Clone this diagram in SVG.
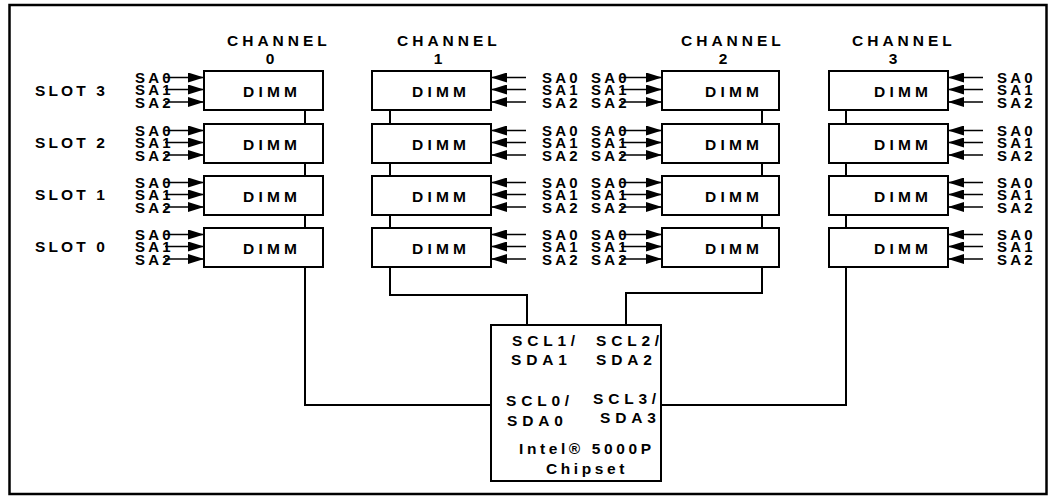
<svg xmlns="http://www.w3.org/2000/svg" width="1055" height="500" viewBox="0 0 1055 500">
<defs>
<style>
text{font-family:"Liberation Sans",Arial,sans-serif;font-weight:bold;font-size:15.5px;fill:#000}
.ch{letter-spacing:4px}
.dg{text-anchor:middle}
.dimm{letter-spacing:4.2px}
.slot{letter-spacing:3.1px}
.sa{letter-spacing:3.2px;font-size:15px}
.chip{letter-spacing:4.8px}
.intel{letter-spacing:3.6px}
.box{fill:#fff;stroke:#000;stroke-width:2}
.wire{fill:none;stroke:#000;stroke-width:2}
.arr{stroke:#000;stroke-width:1.6;marker-end:url(#ah)}
</style>
<marker id="ah" viewBox="0 0 16 10" markerWidth="16" markerHeight="10" refX="16" refY="5" orient="auto" markerUnits="userSpaceOnUse">
<path d="M0,0 L16,5 L0,10 z" fill="#000"/>
</marker>
</defs>
<rect x="9.5" y="5" width="1037" height="489" fill="#fff" stroke="#000" stroke-width="2.5"/>

<g id="headers">
<text class="ch" x="227" y="46">CHANNEL</text><text class="dg" x="270" y="64">0</text>
<text class="ch" x="397" y="46">CHANNEL</text><text class="dg" x="438" y="64">1</text>
<text class="ch" x="681" y="46">CHANNEL</text><text class="dg" x="723" y="64">2</text>
<text class="ch" x="852" y="46">CHANNEL</text><text class="dg" x="893" y="64">3</text>
</g>
<g id="slots">
<text class="slot" x="35" y="96">SLOT 3</text>
<text class="slot" x="35" y="148">SLOT 2</text>
<text class="slot" x="35" y="200">SLOT 1</text>
<text class="slot" x="35" y="252">SLOT 0</text>
</g>

<g id="connectors">
<path class="wire" d="M305,110 V124 M305,163 V176 M305,215 V228 M305,267 V405 H491"/>
<path class="wire" d="M390,110 V124 M390,163 V176 M390,215 V228 M390,267 V295 H527 V325"/>
<path class="wire" d="M762,110 V124 M762,163 V176 M762,215 V228 M762,267 V293 H626 V325"/>
<path class="wire" d="M846,110 V124 M846,163 V176 M846,215 V228 M846,267 V405 H661"/>
<g id="sa-arrows">
<line class="arr" x1="165" y1="77.5" x2="204" y2="77.5"/><line class="arr" x1="165" y1="89.5" x2="204" y2="89.5"/><line class="arr" x1="165" y1="102" x2="204" y2="102"/>
<line class="arr" x1="165" y1="130.5" x2="204" y2="130.5"/><line class="arr" x1="165" y1="142.5" x2="204" y2="142.5"/><line class="arr" x1="165" y1="155" x2="204" y2="155"/>
<line class="arr" x1="165" y1="182.5" x2="204" y2="182.5"/><line class="arr" x1="165" y1="194.5" x2="204" y2="194.5"/><line class="arr" x1="165" y1="207" x2="204" y2="207"/>
<line class="arr" x1="165" y1="234.5" x2="204" y2="234.5"/><line class="arr" x1="165" y1="246.5" x2="204" y2="246.5"/><line class="arr" x1="165" y1="259" x2="204" y2="259"/>

<line class="arr" x1="526" y1="77.5" x2="491" y2="77.5"/><line class="arr" x1="526" y1="89.5" x2="491" y2="89.5"/><line class="arr" x1="526" y1="102" x2="491" y2="102"/>
<line class="arr" x1="526" y1="130.5" x2="491" y2="130.5"/><line class="arr" x1="526" y1="142.5" x2="491" y2="142.5"/><line class="arr" x1="526" y1="155" x2="491" y2="155"/>
<line class="arr" x1="526" y1="182.5" x2="491" y2="182.5"/><line class="arr" x1="526" y1="194.5" x2="491" y2="194.5"/><line class="arr" x1="526" y1="207" x2="491" y2="207"/>
<line class="arr" x1="526" y1="234.5" x2="491" y2="234.5"/><line class="arr" x1="526" y1="246.5" x2="491" y2="246.5"/><line class="arr" x1="526" y1="259" x2="491" y2="259"/>

<line class="arr" x1="621" y1="77.5" x2="662" y2="77.5"/><line class="arr" x1="621" y1="89.5" x2="662" y2="89.5"/><line class="arr" x1="621" y1="102" x2="662" y2="102"/>
<line class="arr" x1="621" y1="130.5" x2="662" y2="130.5"/><line class="arr" x1="621" y1="142.5" x2="662" y2="142.5"/><line class="arr" x1="621" y1="155" x2="662" y2="155"/>
<line class="arr" x1="621" y1="182.5" x2="662" y2="182.5"/><line class="arr" x1="621" y1="194.5" x2="662" y2="194.5"/><line class="arr" x1="621" y1="207" x2="662" y2="207"/>
<line class="arr" x1="621" y1="234.5" x2="662" y2="234.5"/><line class="arr" x1="621" y1="246.5" x2="662" y2="246.5"/><line class="arr" x1="621" y1="259" x2="662" y2="259"/>

<line class="arr" x1="983" y1="77.5" x2="948" y2="77.5"/><line class="arr" x1="983" y1="89.5" x2="948" y2="89.5"/><line class="arr" x1="983" y1="102" x2="948" y2="102"/>
<line class="arr" x1="983" y1="130.5" x2="948" y2="130.5"/><line class="arr" x1="983" y1="142.5" x2="948" y2="142.5"/><line class="arr" x1="983" y1="155" x2="948" y2="155"/>
<line class="arr" x1="983" y1="182.5" x2="948" y2="182.5"/><line class="arr" x1="983" y1="194.5" x2="948" y2="194.5"/><line class="arr" x1="983" y1="207" x2="948" y2="207"/>
<line class="arr" x1="983" y1="234.5" x2="948" y2="234.5"/><line class="arr" x1="983" y1="246.5" x2="948" y2="246.5"/><line class="arr" x1="983" y1="259" x2="948" y2="259"/>
</g>
</g>

<g id="sa-labels">
<text class="sa"><tspan x="135" y="83">SA0</tspan><tspan x="135" y="95">SA1</tspan><tspan x="135" y="107.5">SA2</tspan><tspan x="135" y="136">SA0</tspan><tspan x="135" y="148">SA1</tspan><tspan x="135" y="160.5">SA2</tspan><tspan x="135" y="188">SA0</tspan><tspan x="135" y="200">SA1</tspan><tspan x="135" y="212.5">SA2</tspan><tspan x="135" y="240">SA0</tspan><tspan x="135" y="252">SA1</tspan><tspan x="135" y="264.5">SA2</tspan></text>
<text class="sa"><tspan x="542" y="83">SA0</tspan><tspan x="542" y="95">SA1</tspan><tspan x="542" y="107.5">SA2</tspan><tspan x="542" y="136">SA0</tspan><tspan x="542" y="148">SA1</tspan><tspan x="542" y="160.5">SA2</tspan><tspan x="542" y="188">SA0</tspan><tspan x="542" y="200">SA1</tspan><tspan x="542" y="212.5">SA2</tspan><tspan x="542" y="240">SA0</tspan><tspan x="542" y="252">SA1</tspan><tspan x="542" y="264.5">SA2</tspan></text>
<text class="sa"><tspan x="591" y="83">SA0</tspan><tspan x="591" y="95">SA1</tspan><tspan x="591" y="107.5">SA2</tspan><tspan x="591" y="136">SA0</tspan><tspan x="591" y="148">SA1</tspan><tspan x="591" y="160.5">SA2</tspan><tspan x="591" y="188">SA0</tspan><tspan x="591" y="200">SA1</tspan><tspan x="591" y="212.5">SA2</tspan><tspan x="591" y="240">SA0</tspan><tspan x="591" y="252">SA1</tspan><tspan x="591" y="264.5">SA2</tspan></text>
<text class="sa"><tspan x="997" y="83">SA0</tspan><tspan x="997" y="95">SA1</tspan><tspan x="997" y="107.5">SA2</tspan><tspan x="997" y="136">SA0</tspan><tspan x="997" y="148">SA1</tspan><tspan x="997" y="160.5">SA2</tspan><tspan x="997" y="188">SA0</tspan><tspan x="997" y="200">SA1</tspan><tspan x="997" y="212.5">SA2</tspan><tspan x="997" y="240">SA0</tspan><tspan x="997" y="252">SA1</tspan><tspan x="997" y="264.5">SA2</tspan></text>
</g>

<g id="dimm-c0-s3"><rect class="box" x="204" y="71" width="119" height="39"/><text class="dimm" x="243" y="97">DIMM</text></g>
<g id="dimm-c0-s2"><rect class="box" x="204" y="124" width="119" height="39"/><text class="dimm" x="243" y="150">DIMM</text></g>
<g id="dimm-c0-s1"><rect class="box" x="204" y="176" width="119" height="39"/><text class="dimm" x="243" y="202">DIMM</text></g>
<g id="dimm-c0-s0"><rect class="box" x="204" y="228" width="119" height="39"/><text class="dimm" x="243" y="254">DIMM</text></g>

<g id="dimm-c1-s3"><rect class="box" x="372" y="71" width="119" height="39"/><text class="dimm" x="412" y="97">DIMM</text></g>
<g id="dimm-c1-s2"><rect class="box" x="372" y="124" width="119" height="39"/><text class="dimm" x="412" y="150">DIMM</text></g>
<g id="dimm-c1-s1"><rect class="box" x="372" y="176" width="119" height="39"/><text class="dimm" x="412" y="202">DIMM</text></g>
<g id="dimm-c1-s0"><rect class="box" x="372" y="228" width="119" height="39"/><text class="dimm" x="412" y="254">DIMM</text></g>

<g id="dimm-c2-s3"><rect class="box" x="662" y="71" width="117" height="39"/><text class="dimm" x="705" y="97">DIMM</text></g>
<g id="dimm-c2-s2"><rect class="box" x="662" y="124" width="117" height="39"/><text class="dimm" x="705" y="150">DIMM</text></g>
<g id="dimm-c2-s1"><rect class="box" x="662" y="176" width="117" height="39"/><text class="dimm" x="705" y="202">DIMM</text></g>
<g id="dimm-c2-s0"><rect class="box" x="662" y="228" width="117" height="39"/><text class="dimm" x="705" y="254">DIMM</text></g>

<g id="dimm-c3-s3"><rect class="box" x="829" y="71" width="119" height="39"/><text class="dimm" x="874" y="97">DIMM</text></g>
<g id="dimm-c3-s2"><rect class="box" x="829" y="124" width="119" height="39"/><text class="dimm" x="874" y="150">DIMM</text></g>
<g id="dimm-c3-s1"><rect class="box" x="829" y="176" width="119" height="39"/><text class="dimm" x="874" y="202">DIMM</text></g>
<g id="dimm-c3-s0"><rect class="box" x="829" y="228" width="119" height="39"/><text class="dimm" x="874" y="254">DIMM</text></g>

<g id="chipset">
<rect class="box" x="491" y="325" width="170" height="156"/>
<text class="chip" x="512" y="346">SCL1/</text>
<text class="chip" x="511" y="365">SDA1</text>
<text class="chip" x="596" y="346">SCL2/</text>
<text class="chip" x="596" y="365">SDA2</text>
<text class="chip" x="506" y="406">SCL0/</text>
<text class="chip" x="507" y="426">SDA0</text>
<text class="chip" x="593" y="404">SCL3/</text>
<text class="chip" x="600" y="423">SDA3</text>
<text class="intel" x="519" y="454">Intel® 5000P</text>
<text class="intel" x="546" y="474">Chipset</text>
</g>
</svg>
